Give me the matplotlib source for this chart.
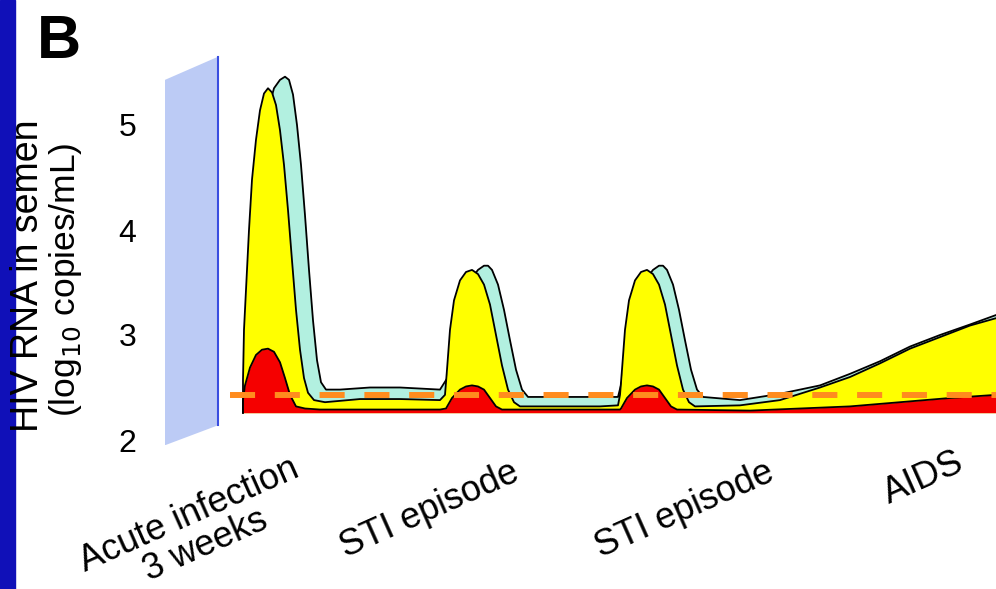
import matplotlib.pyplot as plt
from matplotlib.patches import Polygon, Rectangle

plt.rcParams['font.family'] = ['Liberation Sans', 'DejaVu Sans']

# --- Data (time in arbitrary units, HIV RNA in log10 copies/mL) ---
BASELINE = 2.26
THRESHOLD = 2.43

cyan_t = [0, 7, 17, 25, 31, 37, 42, 46, 50, 54, 58, 62, 66, 70, 74, 78, 83, 97, 127, 157, 197,
          205, 217, 227, 235, 241, 245, 249, 255, 261, 267, 273, 279, 285, 317, 357, 375,
          380, 392, 402, 410, 416, 420, 424, 430, 436, 442, 448, 454, 460,
          497, 537, 577, 607, 637, 667, 697, 727, 753]
cyan_v = [2.26, 3.33, 4.57, 5.14, 5.35, 5.43, 5.46, 5.43, 5.29, 5.00, 4.62, 4.14, 3.62, 3.14, 2.76, 2.55, 2.48, 2.48, 2.50, 2.50, 2.48,
          2.60, 3.33, 3.52, 3.62, 3.66, 3.66, 3.62, 3.48, 3.24, 2.95, 2.67, 2.48, 2.41, 2.41, 2.41, 2.41,
          2.60, 3.33, 3.52, 3.62, 3.66, 3.66, 3.62, 3.48, 3.24, 2.95, 2.67, 2.48, 2.41,
          2.38, 2.44, 2.52, 2.63, 2.75, 2.89, 3.00, 3.10, 3.19]

yellow_t = [0, 0, 1, 3, 6, 9, 13, 17, 21, 25, 29, 33, 37, 41, 45, 49, 53, 57, 61, 65, 71, 82, 117, 157, 197,
            202, 204, 207, 211, 217, 223, 229, 235, 241, 247, 253, 259, 265, 271, 277, 317, 357, 375,
            377, 379, 382, 386, 392, 398, 404, 410, 416, 422, 428, 434, 440, 446, 452,
            497, 537, 577, 607, 637, 667, 697, 727, 753]
yellow_v = [2.26, 2.57, 3.05, 3.43, 4.00, 4.48, 4.86, 5.14, 5.30, 5.35, 5.31, 5.19, 4.95, 4.62, 4.19, 3.71, 3.24, 2.86, 2.59, 2.45, 2.38, 2.36, 2.39, 2.39, 2.38,
            2.43, 2.67, 3.05, 3.33, 3.52, 3.60, 3.62, 3.58, 3.48, 3.29, 3.00, 2.71, 2.48, 2.36, 2.32, 2.32, 2.32, 2.33,
            2.43, 2.67, 3.05, 3.33, 3.52, 3.60, 3.62, 3.58, 3.48, 3.29, 3.00, 2.71, 2.48, 2.36, 2.32,
            2.33, 2.38, 2.50, 2.60, 2.73, 2.87, 2.98, 3.09, 3.16]

red_t = [0, 0, 2, 7, 13, 19, 25, 31, 37, 42, 47, 53, 62, 77, 197,
         203, 209, 217, 223, 229, 235, 241, 247, 253, 259, 377,
         378, 384, 392, 398, 404, 410, 416, 422, 428, 434,
         507, 557, 607, 657, 707, 753]
red_v = [2.26, 2.38, 2.52, 2.69, 2.81, 2.86, 2.87, 2.84, 2.74, 2.59, 2.43, 2.32, 2.30, 2.29, 2.29,
         2.30, 2.40, 2.48, 2.51, 2.52, 2.51, 2.48, 2.40, 2.32, 2.29, 2.29,
         2.30, 2.40, 2.48, 2.51, 2.52, 2.51, 2.48, 2.40, 2.32, 2.29,
         2.28, 2.30, 2.32, 2.36, 2.40, 2.43]

y_ticks = [2, 3, 4, 5]
categories = ['Acute infection', '3 weeks', 'STI episode', 'STI episode', 'AIDS']

# --- Figure ---
fig = plt.figure(figsize=(9.96, 5.89), dpi=100)
W, H = 996, 589

# dark blue strip at the left edge of the slide
fig.patches.append(Rectangle((0, 0), 15 / W, 1, transform=fig.transFigure,
                             color='#1010b8', zorder=0))

ax = fig.add_axes([163 / W, 1 - 445.25 / H, 833 / W, 399 / H])
ax.set_xlim(-80, 753)
ax.set_ylim(1.95, 5.75)
for s in ax.spines.values():
    s.set_visible(False)
ax.set_xticks([])
ax.set_yticks(y_ticks)
ax.set_yticklabels([str(v) for v in y_ticks], fontsize=23)
ax.tick_params(axis='y', length=0, pad=19)

# pseudo-3D y-axis wall
ax.add_patch(Polygon([(-78, 5.43), (-25, 5.65), (-25, 2.14), (-78, 1.95)],
                     closed=True, facecolor='#bccbf5', edgecolor='none', zorder=1))
ax.plot([-25, -25], [2.14, 5.65], color='#3a4ee0', lw=1.5, zorder=2)

# layered areas
layers = [(cyan_t, cyan_v, '#b2f0e0'), (yellow_t, yellow_v, '#ffff00'), (red_t, red_v, '#f50000')]
z = 3
for t, v, col in layers:
    ax.fill_between(t, BASELINE, v, color=col, lw=0, zorder=z)
    ax.plot(t, v, color='black', lw=1.3, zorder=z + 0.5)
    z += 1

ax.axhline(THRESHOLD, xmin=(-13 + 80) / 833, xmax=1, color='#ff8c1e', lw=4.3,
           dashes=(4.2, 3.3), dash_capstyle='butt', zorder=8)

# labels
fig.text(37 / W, 1 - 58 / H, 'B', fontsize=44, fontweight='bold', ha='left', va='baseline')
fig.text(28 / W, 1 - 276 / H, 'HIV RNA in semen', rotation=90, fontsize=27,
         ha='center', va='center')
fig.text(65 / W, 1 - 280 / H, '(log$_{10}$ copies/mL)', rotation=90, fontsize=25.5,
         ha='center', va='center')

cat_pos = [(189, 515), (205, 545), (430, 510), (685, 510), (924, 478)]
for lab, (px, py) in zip(categories, cat_pos):
    fig.text(px / W, 1 - py / H, lab, rotation=24, fontsize=26, ha='center', va='center')

fig.savefig('out.png', dpi=100)
